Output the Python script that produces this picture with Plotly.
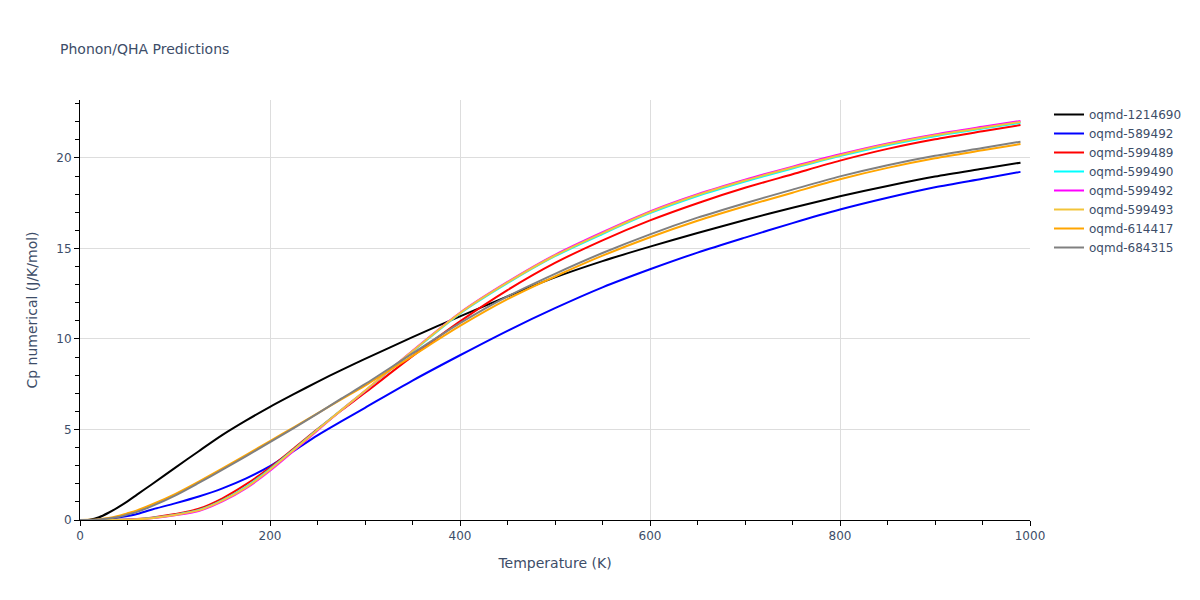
import plotly.graph_objects as go

# temperature grid (K)
temps = [0, 10, 20, 30, 40, 50, 60, 75, 100, 125, 150, 175, 200, 225, 250, 275, 300,
         350, 400, 450, 500, 550, 600, 650, 700, 750, 800, 850, 900, 950, 990]

# Cp numerical (J/K/mol)
cp_1214690 = [0, 0.02, 0.15, 0.4, 0.7, 1.03, 1.4, 1.95, 2.88, 3.8, 4.7, 5.5, 6.25, 6.95, 7.63, 8.28, 8.9,
              10.1, 11.25, 12.35, 13.4, 14.3, 15.1, 15.85, 16.57, 17.25, 17.88, 18.45, 18.97, 19.4, 19.74]
cp_589492 = [0, 0.003, 0.02, 0.06, 0.13, 0.22, 0.33, 0.57, 0.92, 1.3, 1.75, 2.3, 2.97, 3.82, 4.68, 5.45, 6.2,
             7.7, 9.1, 10.45, 11.7, 12.85, 13.85, 14.77, 15.6, 16.4, 17.15, 17.8, 18.38, 18.85, 19.23]
cp_599489 = [0, 0, 0.002, 0.005, 0.012, 0.025, 0.05, 0.13, 0.33, 0.62, 1.2, 1.98, 2.9, 3.95, 5.02, 6.05, 7.03,
             9.05, 10.97, 12.7, 14.2, 15.45, 16.55, 17.5, 18.35, 19.1, 19.85, 20.5, 21.03, 21.47, 21.82]
cp_599490 = [0, 0, 0.001, 0.003, 0.008, 0.018, 0.04, 0.11, 0.29, 0.55, 1.1, 1.85, 2.82, 3.9, 5.0, 6.08, 7.13,
             9.3, 11.4, 13.08, 14.57, 15.8, 16.95, 17.9, 18.7, 19.42, 20.1, 20.7, 21.2, 21.62, 21.94]
cp_599492 = [0, 0, 0.001, 0.002, 0.006, 0.015, 0.035, 0.09, 0.26, 0.5, 1.03, 1.76, 2.72, 3.82, 4.95, 6.06, 7.13,
             9.35, 11.45, 13.15, 14.65, 15.9, 17.05, 18.0, 18.8, 19.52, 20.2, 20.8, 21.3, 21.72, 22.04]
cp_599493 = [0, 0, 0.001, 0.003, 0.007, 0.016, 0.037, 0.1, 0.28, 0.53, 1.07, 1.8, 2.78, 3.87, 4.98, 6.07, 7.14,
             9.33, 11.43, 13.12, 14.61, 15.85, 17.0, 17.95, 18.75, 19.47, 20.15, 20.75, 21.25, 21.67, 21.99]
cp_614417 = [0, 0.008, 0.045, 0.11, 0.22, 0.37, 0.53, 0.84, 1.43, 2.12, 2.85, 3.6, 4.36, 5.12, 5.89, 6.66, 7.42,
             9.07, 10.72, 12.2, 13.45, 14.6, 15.62, 16.53, 17.33, 18.08, 18.82, 19.45, 19.98, 20.42, 20.77]
cp_684315 = [0, 0.005, 0.03, 0.08, 0.16, 0.3, 0.45, 0.75, 1.35, 2.05, 2.78, 3.53, 4.3, 5.08, 5.88, 6.7, 7.5,
             9.2, 10.87, 12.35, 13.6, 14.75, 15.78, 16.7, 17.5, 18.25, 18.98, 19.6, 20.12, 20.55, 20.9]

names = ['oqmd-1214690', 'oqmd-589492', 'oqmd-599489', 'oqmd-599490',
         'oqmd-599492', 'oqmd-599493', 'oqmd-614417', 'oqmd-684315']
series = [cp_1214690, cp_589492, cp_599489, cp_599490, cp_599492, cp_599493, cp_614417, cp_684315]
colors = ['black', 'blue', 'red', 'cyan', 'magenta', '#f2c43a', 'orange', 'gray']

fig = go.Figure()
for name, cp, color in zip(names, series, colors):
    fig.add_trace(go.Scatter(x=temps, y=cp, mode='lines', name=name,
                             line=dict(color=color, width=2, shape='spline', smoothing=0.8)))

# page has an 8px body margin, so shift everything up/left by 8px
fig.update_layout(
    width=1200, height=600,
    template='plotly_white',
    font=dict(family='DejaVu Sans', size=12, color='#3d4d68'),
    title=dict(text='Phonon/QHA Predictions', x=52 / 1200, font=dict(size=14)),
    margin=dict(l=72, r=178, t=92, b=88),
    legend=dict(font=dict(size=12)),
)

# axes: black lines, outside ticks, minor ticks
axis_style = dict(showline=True, linecolor='black', linewidth=1, ticks='outside',
                  ticklen=5, tickcolor='black', zeroline=False, gridcolor='#dddddd')
fig.update_xaxes(title_text='Temperature (K)', range=[0, 1000], dtick=200,
                 minor=dict(dtick=50, ticks='outside', ticklen=4, tickcolor='black', showgrid=False),
                 **axis_style)
fig.update_yaxes(title_text='Cp numerical (J/K/mol)', range=[0, 23.2], dtick=5,
                 minor=dict(dtick=1, ticks='outside', ticklen=4, tickcolor='black', showgrid=False),
                 **axis_style)

fig.write_html('out.html')
